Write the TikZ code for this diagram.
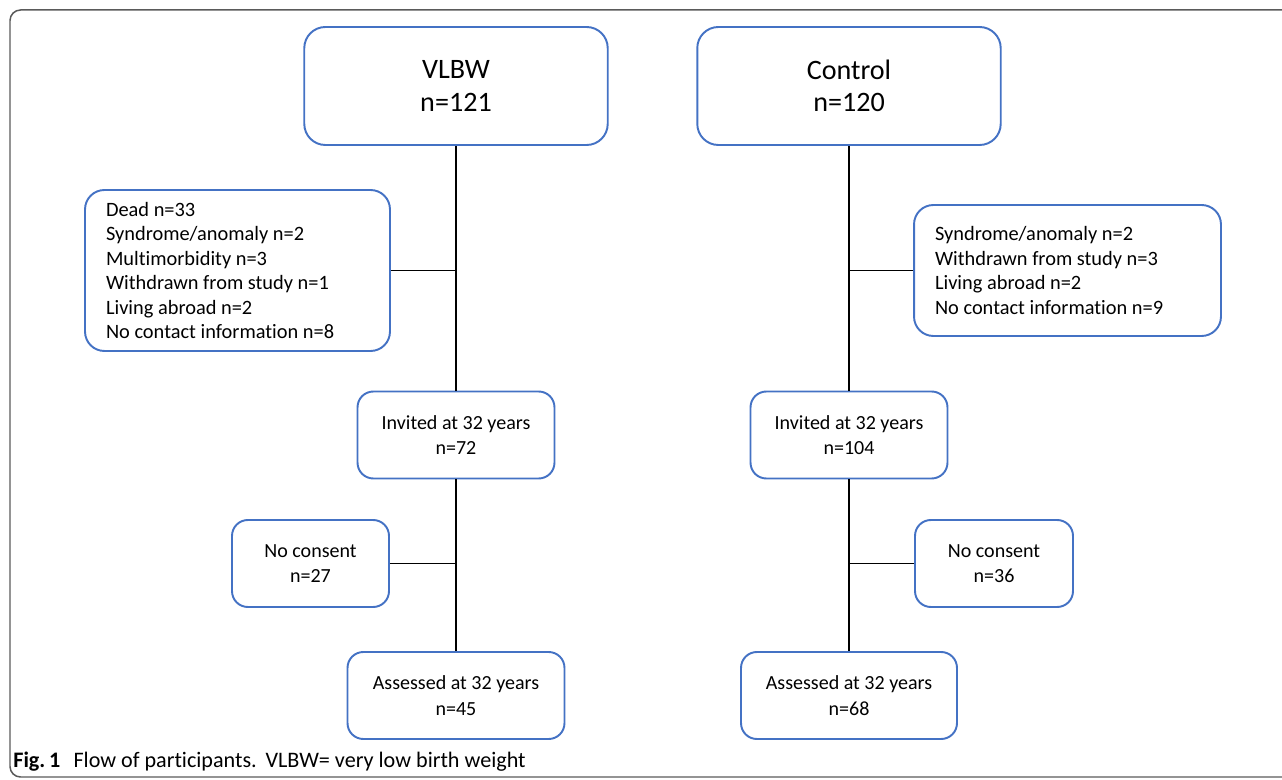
\documentclass[tikz,border=0pt]{standalone}
\usepackage{fontspec}
\setmainfont{Carlito}[Ligatures={NoCommon}]
\usepackage{xcolor}
\definecolor{boxblue}{HTML}{4472C4}
\definecolor{framegray}{HTML}{5A5A5A}
\usepackage{tikz}
\usetikzlibrary{positioning, calc}

\begin{document}
\begin{tikzpicture}[
    x=0.02cm, y=-0.02cm,
    grp/.style={draw=boxblue, line width=1.1pt, rounded corners=12pt, align=center, minimum width=6.07cm, minimum height=2.36cm, font=\fontsize{16}{18.5}\selectfont},
    flow/.style={draw=boxblue, line width=1.1pt, rounded corners=9pt, align=center, minimum height=1.74cm, font=\fontsize{11.4}{14.6}\selectfont},
    excl/.style={draw=boxblue, line width=1.1pt, rounded corners=11pt, align=flush left, inner xsep=0.42cm, font=\fontsize{11.6}{14}\selectfont},
    link/.style={draw=black, line width=0.6pt}
]
\useasboundingbox (0,0) rectangle (1282,780);

% frame of the figure
\draw[framegray, line width=0.85pt, rounded corners=6pt] (1290,10) -- (10,10) -- (10,777) -- (1290,777);

% Left column - VLBW
\node[grp] (vlbw) at (456,86) {VLBW\\n=121};
\node[excl, text width=5.26cm, minimum height=3.22cm] (exc1) at (237.5,270.5) {Dead n=33\\Syndrome/anomaly n=2\\Multimorbidity n=3\\Withdrawn from study n=1\\Living abroad n=2\\No contact information n=8};
\node[flow, minimum width=3.94cm] (inv1) at (456,435) {Invited at 32 years\\n=72};
\node[flow, minimum width=3.14cm] (nocon1) at (310.5,563.5) {No consent\\n=27};
\node[flow, minimum width=4.34cm] (ass1) at (456,695.5) {Assessed at 32 years\\n=45};

% Right column - Control
\node[grp] (ctrl) at (849,86) {Control\\n=120};
\node[excl, text width=5.3cm, minimum height=2.62cm] (exc2) at (1067.5,270.5) {Syndrome/anomaly n=2\\Withdrawn from study n=3\\Living abroad n=2\\No contact information n=9};
\node[flow, minimum width=3.94cm] (inv2) at (849,435) {Invited at 32 years\\n=104};
\node[flow, minimum width=3.16cm] (nocon2) at (994,563.5) {No consent\\n=36};
\node[flow, minimum width=4.32cm] (ass2) at (849,695.5) {Assessed at 32 years\\n=68};

% Connectors
\draw[link] (vlbw) -- (inv1);
\draw[link] (inv1) -- (ass1);
\draw[link] (exc1) -- (exc1 -| vlbw);
\draw[link] (nocon1) -- (nocon1 -| inv1);
\draw[link] (ctrl) -- (inv2);
\draw[link] (inv2) -- (ass2);
\draw[link] (exc2) -- (exc2 -| ctrl);
\draw[link] (nocon2) -- (nocon2 -| inv2);

% caption
\node[anchor=base west, inner sep=0pt, font=\fontsize{12.6}{14}\selectfont] (cap) at (13,767) {\textbf{Fig.\,1}\hspace{0.6em}Flow of participants.\hspace{0.4em}VLBW= very low birth weight};

\end{tikzpicture}
\end{document}
